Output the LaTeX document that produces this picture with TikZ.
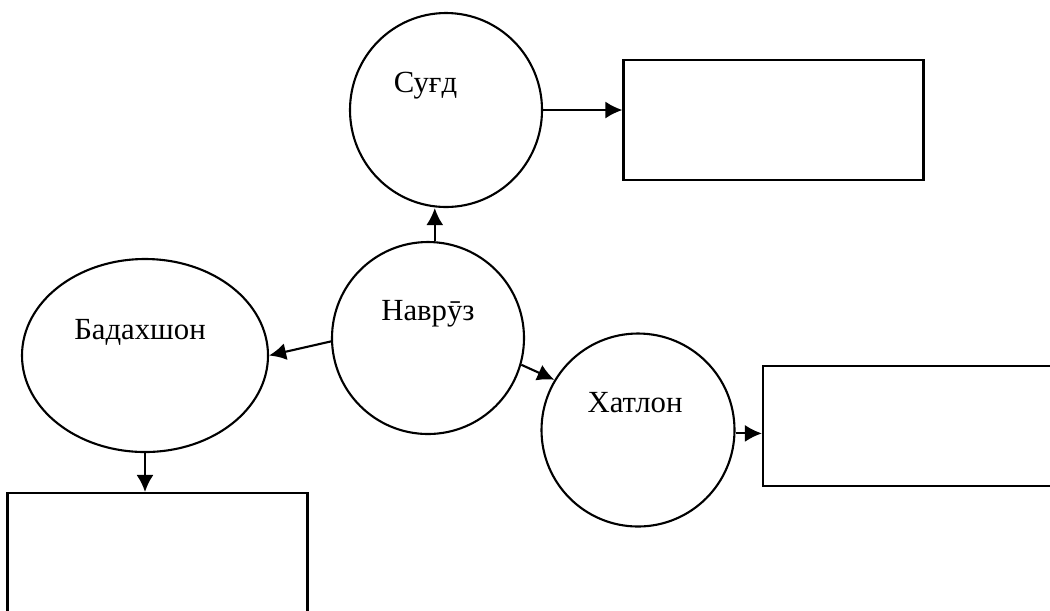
\documentclass[tikz,border=0pt]{standalone}
\usepackage{fontspec}
\setmainfont{Liberation Serif}
\usetikzlibrary{shapes.geometric,arrows.meta}

\begin{document}
\begin{tikzpicture}[%
        x = 0.02cm, y = -0.02cm,
        oval/.style = {draw, ellipse, line width=1.2pt, inner sep=0pt},
        box/.style = {draw, rectangle, line width=1.2pt, inner sep=0pt,
                      minimum width=300*0.02cm, minimum height=120*0.02cm},
        placename/.style = {anchor=base, font=\fontsize{17.5}{20}\selectfont},
        arr/.style = {line width=1.2pt, -{Latex[length=0.34cm, width=0.34cm]}}
    ]
      \useasboundingbox (0,0) rectangle (1050,610);
      % ovals
      \node[oval, minimum width=192*0.02cm, minimum height=194*0.02cm] (sugd) at (446,110) {};
      \node[oval, minimum width=192*0.02cm, minimum height=192*0.02cm] (nav) at (428,338) {};
      \node[oval, minimum width=246*0.02cm, minimum height=193*0.02cm] (bad) at (145,355.5) {};
      \node[oval, minimum width=193*0.02cm, minimum height=193*0.02cm] (khat) at (638,430) {};
      % boxes
      \node[box] (b1) at (773.5,120) {};
      \node[box] (b2) at (913,426) {};
      \node[box] (b3) at (157.5,553) {};
      % names
      \node[placename] (t1) at (425.5,92) {Суғд};
      \node[placename] (t2) at (428,320) {Наврӯз};
      \node[placename] (t3) at (140,339) {Бадахшон};
      \node[placename] (t4) at (635,412) {Хатлон};
      % arrows
      \draw[arr] (nav.86) -- (nav.86 |- sugd.south);
      \draw[arr] (sugd.east) -- (sugd.east -| b1.west);
      \draw[arr] (nav.182) -- (bad.east);
      \draw[arr] (nav.-16) -- (khat.149);
      \draw[arr] (khat.-2) -- (khat.-2 -| b2.west);
      \draw[arr] (bad.south) -- (bad.south |- b3.north);
    \end{tikzpicture}
\end{document}
